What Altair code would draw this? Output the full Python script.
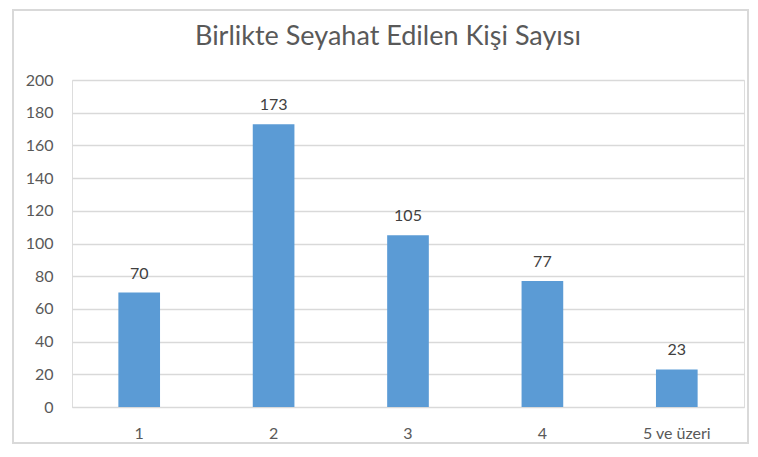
import altair as alt
import pandas as pd

categories = ["1", "2", "3", "4", "5 ve üzeri"]
values = [70, 173, 105, 77, 23]
y_ticks = [0, 20, 40, 60, 80, 100, 120, 140, 160, 180, 200]
title_text = "Birlikte Seyahat Edilen Kişi Sayısı"

df = pd.DataFrame({"kategori": categories, "deger": values})

W, H = 672, 327
FONT = "Lato"

x_enc = alt.X("kategori:N", sort=categories, title=None,
              scale=alt.Scale(paddingInner=0.69, paddingOuter=0.345),
              axis=alt.Axis(labelAngle=0, labelFontSize=16, labelColor="#595959",
                            labelFont=FONT, labelPadding=18, ticks=False,
                            domain=True, domainColor="#d9d9d9", grid=False))
y_enc = alt.Y("deger:Q", title=None,
              scale=alt.Scale(domain=[0, 200], nice=False),
              axis=alt.Axis(values=y_ticks, labelFontSize=16, labelColor="#595959",
                            labelFont=FONT, labelPadding=19, ticks=False, domain=False,
                            labelOverlap=False, labelBound=False,
                            grid=True, gridColor="#d9d9d9", gridWidth=1.3))

base = alt.Chart(df).encode(x=x_enc, y=y_enc)

bars = base.mark_bar(color="#5B9BD5")

labels = base.mark_text(baseline="alphabetic", dy=-14, fontSize=16,
                        font=FONT, color="#404040").encode(
    text=alt.Text("deger:Q"))

frame = alt.Chart(pd.DataFrame({"k": [0]})).mark_rect(
    fill=None, stroke="#d9d9d9", strokeWidth=2).encode(
    x=alt.value(-59), x2=alt.value(W + 4), y=alt.value(-70), y2=alt.value(H + 36))

chart = alt.layer(bars, labels, frame).properties(
    width=W, height=H,
    title=alt.TitleParams(title_text, fontSize=27, font=FONT, fontWeight="normal",
                          color="#595959", anchor="middle", frame="group",
                          dx=-20, offset=-63, baseline="alphabetic"),
    padding={"left": 4, "top": 1, "right": 0, "bottom": 0},
).configure_view(stroke=None).configure(background="white")

chart.save("out.html", embed_options={"renderer": "svg", "actions": False})
